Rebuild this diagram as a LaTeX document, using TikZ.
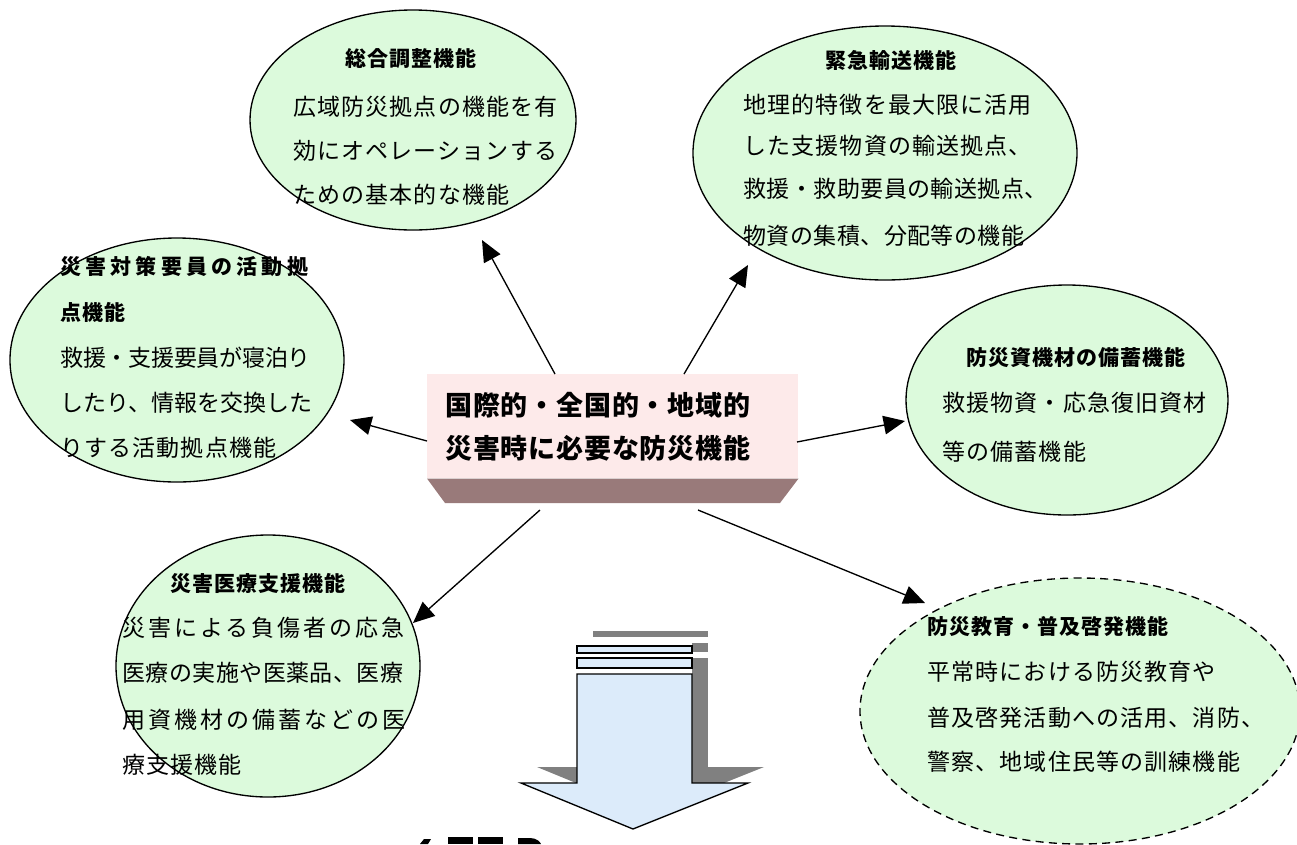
\documentclass[tikz,border=0pt]{standalone}
\usepackage{fontspec}
\setmainfont{Noto Sans CJK JP}
\usetikzlibrary{shapes.geometric,arrows.meta}
\definecolor{ellgreen}{RGB}{220,250,220}
\definecolor{boxpink}{RGB}{253,234,234}
\definecolor{boxbrown}{RGB}{153,122,122}
\definecolor{arrblue}{RGB}{220,235,250}
\definecolor{shadowgray}{RGB}{128,128,128}
\newcommand\bodyfont{\fontsize{17.25pt}{20pt}\selectfont\addfontfeature{LetterSpace=5}}
\newcommand\titlefont{\fontsize{15.75pt}{18pt}\selectfont\bfseries\addfontfeature{LetterSpace=5}}
\newcommand\centerfont{\fontsize{20.25pt}{24pt}\selectfont\bfseries\addfontfeature{LetterSpace=3}}
\newcommand\spaced[2]{{\addfontfeature{LetterSpace=#1}#2}}
\begin{document}
\begin{tikzpicture}[x=0.75pt,y=-0.75pt,
  ell/.style={ellipse, draw, line width=1pt, fill=ellgreen, inner sep=0pt},
  txt/.style={anchor=west, inner sep=0pt, font=\bodyfont},
  ttl/.style={anchor=west, inner sep=0pt, font=\titlefont},
  ctr/.style={anchor=west, inner sep=0pt, font=\centerfont},
  arr/.style={-{Triangle[length=16pt,width=14pt]}, line width=1pt},
  shadow/.style={fill=shadowgray},
  blockarrow/.style={fill=arrblue, draw=black, line width=1pt}]
\useasboundingbox (0,0) rectangle (1297,844);

% ellipses
\node[ell, minimum width=326*0.75pt, minimum height=220*0.75pt] (e1) at (413,120) {};
\node[ell, minimum width=384*0.75pt, minimum height=254*0.75pt] (e2) at (885,153) {};
\node[ell, minimum width=334*0.75pt, minimum height=244*0.75pt] (e3) at (177,360) {};
\node[ell, minimum width=322*0.75pt, minimum height=230*0.75pt] (e4) at (1067,400) {};
\node[ell, minimum width=304*0.75pt, minimum height=262*0.75pt] (e5) at (268,666) {};
\node[ell, dash pattern=on 6pt off 4pt, minimum width=440*0.75pt, minimum height=266*0.75pt] (e6) at (1080,711) {};

% ellipse texts
\node[ttl] (e1t) at (345,58) {総合調整機能};
\node[txt] (e1a) at (293,107) {広域防災拠点の機能を有};
\node[txt] (e1b) at (293,151) {効にオペレーションする};
\node[txt] (e1c) at (293,195) {ための基本的な機能};

\node[ttl] (e2t) at (825,60) {緊急輸送機能};
\node[txt] (e2a) at (743,105) {地理的特徴を最大限に活用};
\node[txt] (e2b) at (743,146) {した支援物資の輸送拠点、};
\node[txt] (e2c) at (743,189) {\spaced{2}{救援・救助要員の輸送拠点、}};
\node[txt] (e2d) at (743,236) {\spaced{2}{物資の集積、分配等の機能}};

\node[ttl] (e3t) at (60,267) {\spaced{20}{災害対策要員の活動拠}};
\node[ttl] (e3u) at (60,312) {点機能};
\node[txt] (e3a) at (60,358) {\spaced{-1}{救援・支援要員が寝泊り}};
\node[txt] (e3b) at (60,403) {\spaced{0}{したり、情報を交換した}};
\node[txt] (e3c) at (60,448) {りする活動拠点機能};

\node[ttl] (e4t) at (966,357) {防災資機材の備蓄機能};
\node[txt] (e4a) at (942,403) {救援物資・応急復旧資材};
\node[txt] (e4b) at (942,452) {等の備蓄機能};

\node[ttl] (e5t) at (170,583) {災害医療支援機能};
\node[txt] (e5a) at (122,628) {\spaced{13}{災害による負傷者の応急}};
\node[txt] (e5b) at (122,673) {\spaced{2}{医療の実施や医薬品、医療}};
\node[txt] (e5c) at (122,720) {\spaced{13}{用資機材の備蓄などの医}};
\node[txt] (e5d) at (122,765) {療支援機能};

\node[ttl] (e6t) at (927,626) {防災教育・普及啓発機能};
\node[txt] (e6a) at (927,672) {平常時における防災教育や};
\node[txt] (e6b) at (927,718) {普及啓発活動への活用、消防、};
\node[txt] (e6c) at (927,762) {警察、地域住民等の訓練機能};

% center box
\node[fill=boxpink, minimum width=371*0.75pt, minimum height=104*0.75pt, inner sep=0pt, anchor=north west] (c) at (427,374) {};
\fill[boxbrown] (c.south west) -- (c.south east) -- (780,503) -- (445,503) -- cycle;
\node[ctr] (c1) at (445,405) {国際的・全国的・地域的};
\node[ctr] (c2) at (445,448) {災害時に必要な防災機能};

% connectors
\coordinate (s1) at (555,374); \coordinate (t1) at (482,240);
\coordinate (s2) at (684,374); \coordinate (t2) at (748,265);
\coordinate (s3) at (427,441); \coordinate (t3) at (350,420);
\coordinate (s4) at (797,442); \coordinate (t4) at (905,421);
\coordinate (s5) at (540,510); \coordinate (t5) at (413,623);
\coordinate (s6) at (698,510); \coordinate (t6) at (925,603);
\draw[arr] (s1) -- (t1);
\draw[arr] (s2) -- (t2);
\draw[arr] (s3) -- (t3);
\draw[arr] (s4) -- (t4);
\draw[arr] (s5) -- (t5);
\draw[arr] (s6) -- (t6);

% block arrow with shadow
\fill[shadow] (593,631) rectangle (708,637);
\fill[shadow] (692,643) rectangle (708,652);
\fill[shadow] (692,658) rectangle (708,767);
\fill[shadow] (537,767) -- (764,767) -- (649,813) -- cycle;
\draw[blockarrow] (577,646) rectangle (692,653);
\draw[blockarrow] (577,658) rectangle (692,668);
\draw[blockarrow] (577,674) -- (692,674) -- (692,783) -- (748,783) -- (633,829) -- (521,783) -- (577,783) -- cycle;

% cut-off text fragments at the bottom edge
\fill (420,844) -- (424,839) -- (431,839) -- (428,844) -- cycle;
\fill (448,837) rectangle (473,844);
\fill (478,837) rectangle (503,844);
\fill (518,838) -- (530,838) .. controls (537,838) and (540,842) .. (541,844) -- (518,844) -- cycle;
\end{tikzpicture}
\end{document}
